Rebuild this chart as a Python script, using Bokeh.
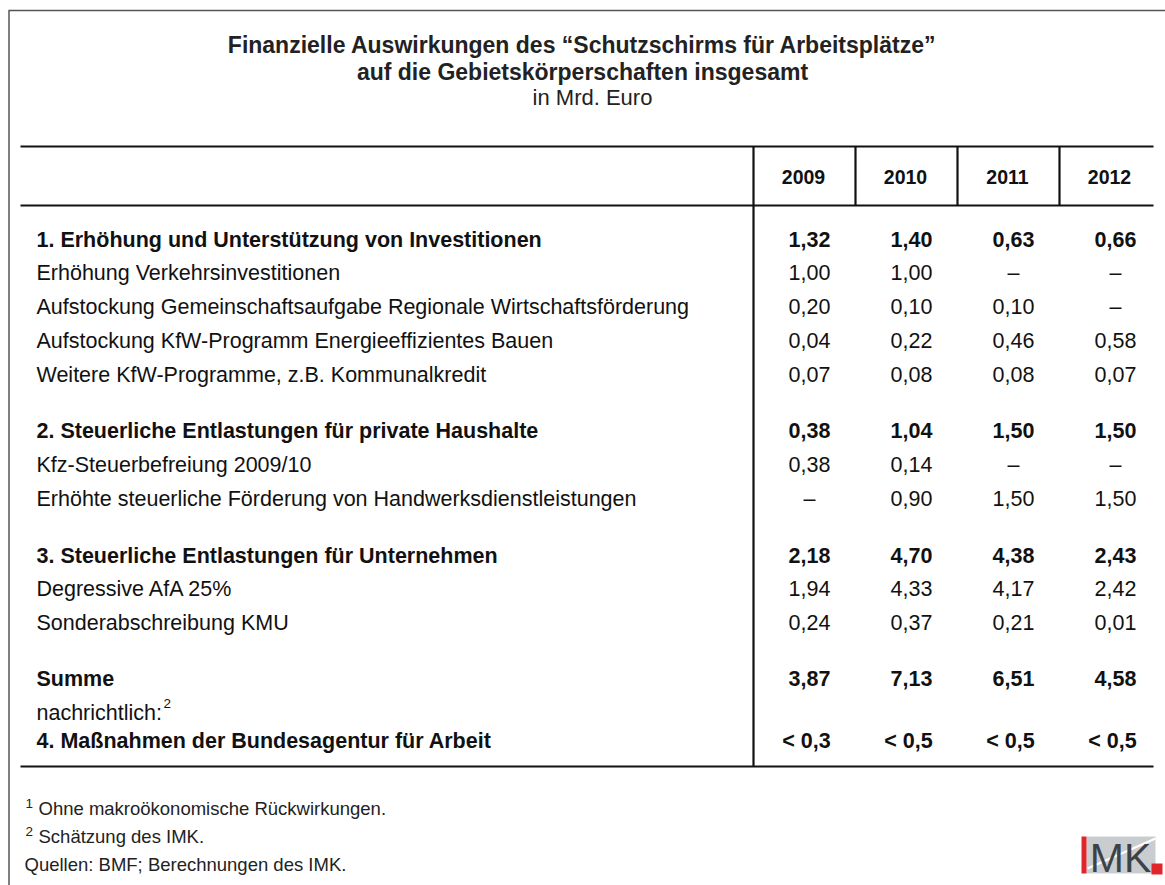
from bokeh.plotting import figure
from bokeh.models import Range1d, ColumnDataSource
from bokeh.core.properties import value
from bokeh.embed import file_html
from bokeh.resources import INLINE

# ---------------- data ----------------
title_lines = ["Finanzielle Auswirkungen des \u201cSchutzschirms f\u00fcr Arbeitspl\u00e4tze\u201d",
               "auf die Gebietsk\u00f6rperschaften insgesamt"]
subtitle = "in Mrd. Euro"
years = ["2009", "2010", "2011", "2012"]
labels = [
    "1. Erh\u00f6hung und Unterst\u00fctzung von Investitionen",
    "Erh\u00f6hung Verkehrsinvestitionen",
    "Aufstockung Gemeinschaftsaufgabe Regionale Wirtschaftsf\u00f6rderung",
    "Aufstockung KfW-Programm Energieeffizientes Bauen",
    "Weitere KfW-Programme, z.B. Kommunalkredit",
    "2. Steuerliche Entlastungen f\u00fcr private Haushalte",
    "Kfz-Steuerbefreiung 2009/10",
    "Erh\u00f6hte steuerliche F\u00f6rderung von Handwerksdienstleistungen",
    "3. Steuerliche Entlastungen f\u00fcr Unternehmen",
    "Degressive AfA 25%",
    "Sonderabschreibung KMU",
    "Summe",
    "nachrichtlich:",
    "4. Ma\u00dfnahmen der Bundesagentur f\u00fcr Arbeit",
]
is_bold = [True, False, False, False, False, True, False, False, True, False, False, True, False, True]
v2009 = [1.32, 1.00, 0.20, 0.04, 0.07, 0.38, 0.38, None, 2.18, 1.94, 0.24, 3.87]
v2010 = [1.40, 1.00, 0.10, 0.22, 0.08, 1.04, 0.14, 0.90, 4.70, 4.33, 0.37, 7.13]
v2011 = [0.63, None, 0.10, 0.46, 0.08, 1.50, None, 1.50, 4.38, 4.17, 0.21, 6.51]
v2012 = [0.66, None, None, 0.58, 0.07, 1.50, None, 1.50, 2.43, 2.42, 0.01, 4.58]
ba_values = ["< 0,3", "< 0,5", "< 0,5", "< 0,5"]
footnote_marks = ["1", "2", ""]
footnote_texts = ["Ohne makro\u00f6konomische R\u00fcckwirkungen.",
                  "Sch\u00e4tzung des IMK.",
                  "Quellen: BMF; Berechnungen des IMK."]
logo_text = "MK"

# ---------------- layout ----------------
FONT = value("Liberation Sans")
BODY = "21.5px"
INK = "#111111"
W, H = 1165, 885
p = figure(width=W, height=H, x_range=Range1d(0, W), y_range=Range1d(H, 0),
           output_backend="svg", toolbar_location=None, min_border=0,
           background_fill_color="white", border_fill_color="white")
p.axis.visible = False
p.grid.visible = False
p.outline_line_color = None

# outer frame (left and top visible)
p.segment(x0=[8, 8.5], y0=[10, 10], x1=[1170, 8.5], y1=[10, 900], line_color="#555555", line_width=1.5)

# title
p.text(x=[582, 582], y=[44, 71], text=title_lines, text_font=FONT, text_font_size="23px",
       text_font_style="bold", text_align="center", text_baseline="middle", text_color="#222222")
p.text(x=[592], y=[97], text=[subtitle], text_font=FONT, text_font_size="22px",
       text_align="center", text_baseline="middle", text_color="#222222")

# table geometry
tab_left, tab_right = 20, 1153
col_edges = [753, 855, 957, 1059]
col_centers = [804, 906, 1008, 1110]
top_y, head_y, bot_y = 146, 205, 766

p.segment(x0=[tab_left] * 3, x1=[tab_right] * 3, y0=[top_y, head_y, bot_y], y1=[top_y, head_y, bot_y],
          line_color=INK, line_width=2.2)
p.segment(x0=[col_edges[0]], x1=[col_edges[0]], y0=[top_y], y1=[bot_y], line_color=INK, line_width=2.2)
p.segment(x0=col_edges[1:], x1=col_edges[1:], y0=[top_y] * 3, y1=[head_y] * 3,
          line_color=INK, line_width=2.2)

# header
p.text(x=[c - 1 for c in col_centers], y=[176] * 4, text=years, text_font=FONT, text_font_size="19.5px",
       text_font_style="bold", text_align="center", text_baseline="middle", text_color=INK)

# row positions: step 34 with larger gaps before group starts
gaps = [0, 33, 34, 34, 34, 56, 34, 34, 57, 33, 34, 56, 34, 28]
row_y = []
y = 239
for g in gaps:
    y += g
    row_y.append(y)

def fmt(v):
    return "\u2013" if v is None else f"{v:.2f}".replace(".", ",")

cols = [v2009, v2010, v2011, v2012]
for bold_flag in (True, False):
    idx = [i for i in range(len(labels)) if is_bold[i] == bold_flag]
    src = ColumnDataSource(dict(x=[36] * len(idx), y=[row_y[i] for i in idx], t=[labels[i] for i in idx]))
    p.text(x="x", y="y", text="t", source=src, text_font=FONT, text_font_size=BODY,
           text_font_style="bold" if bold_flag else "normal", text_baseline="middle",
           text_color=INK)
    xs, ys, ts = [], [], []
    for j, colvals in enumerate(cols):
        for i in idx:
            if i < len(colvals):
                xs.append(col_centers[j] + 5)
                ys.append(row_y[i])
                ts.append(fmt(colvals[i]))
            elif i == len(labels) - 1:
                xs.append(col_centers[j] + 2)
                ys.append(row_y[i])
                ts.append(ba_values[j])
    p.text(x=xs, y=ys, text=ts, text_font=FONT, text_font_size=BODY,
           text_font_style="bold" if bold_flag else "normal", text_align="center",
           text_baseline="middle", text_color=INK)

# superscript after "nachrichtlich:"
p.text(x=[163], y=[703], text=["2"], text_font=FONT, text_font_size="13.5px",
       text_baseline="middle", text_color=INK)

# footnotes
fy = [808, 836, 864]
p.text(x=[25, 25], y=[fy[0] - 5, fy[1] - 5], text=footnote_marks[:2], text_font=FONT,
       text_font_size="13.5px", text_baseline="middle", text_color="#222222")
p.text(x=[38, 38, 24], y=fy, text=footnote_texts, text_font=FONT, text_font_size="18.5px",
       text_baseline="middle", text_color="#222222")

# IMK logo
p.quad(left=[1086], right=[1155], top=[836], bottom=[873], fill_color="#c9cdd0", line_color=None)
p.segment(x0=[1087], y0=[868], x1=[1155], y1=[838], line_color="white", line_width=2)
p.quad(left=[1081], right=[1086], top=[836], bottom=[873], fill_color="#e0262a", line_color=None)
p.text(x=[1120], y=[857], text=[logo_text], text_font=FONT, text_font_size="41px",
       text_align="center", text_baseline="middle", text_color="#3d4246")
p.quad(left=[1151], right=[1162], top=[863], bottom=[874], fill_color="#e0262a", line_color=None)

open("out.html", "w").write(file_html(p, INLINE))
